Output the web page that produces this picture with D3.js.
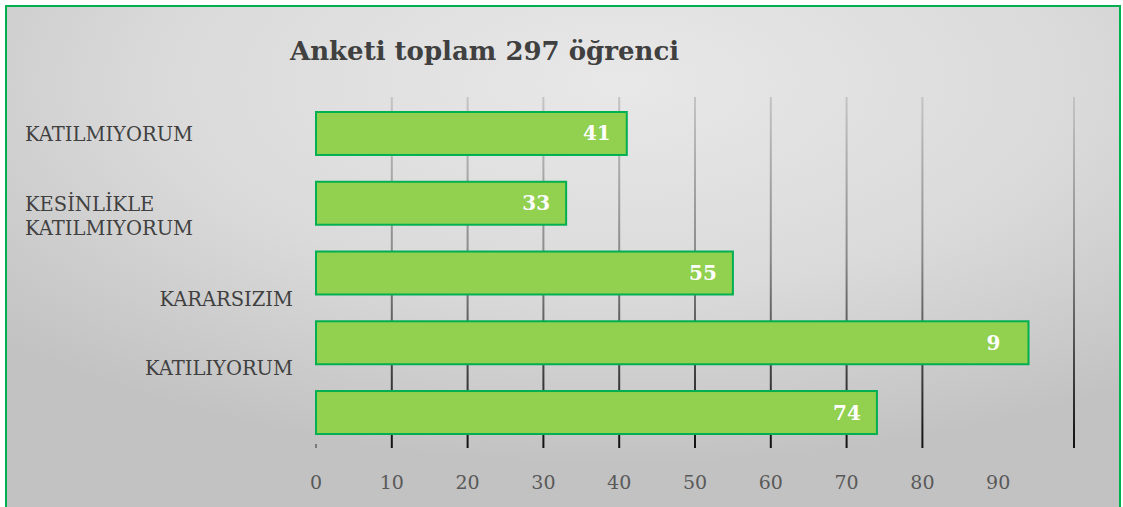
<!DOCTYPE html>
<html>
<head>
<meta charset="utf-8">
<script src="https://cdnjs.cloudflare.com/ajax/libs/d3/7.8.5/d3.min.js"></script>
<style>
  body { margin: 0; background: #fff; }
  text { font-family: "DejaVu Serif", "Liberation Serif", serif; }
</style>
</head>
<body>
<div id="chart"></div>
<script>
// chart data
var title = "Anketi toplam 297 öğrenci";
var categories = ["KATILMIYORUM", "KESİNLİKLE KATILMIYORUM", "KARARSIZIM", "KATILIYORUM", ""];
var values = [41, 33, 55, 94, 74];
var valueLabels = ["41", "33", "55", "9", "74"];
var tickValues = [0, 10, 20, 30, 40, 50, 60, 70, 80, 90];
var gridValues = [10, 20, 30, 40, 50, 60, 70, 80, 100];

var width = 1123, height = 507;

var svg = d3.select("#chart").append("svg")
  .attr("width", width)
  .attr("height", height);

var defs = svg.append("defs");

// background gradient
var bg = defs.append("radialGradient")
  .attr("id", "bg")
  .attr("cx", "0.55").attr("cy", "0.15").attr("r", "0.75");
bg.append("stop").attr("offset", "0%").attr("stop-color", "#e8e8e8");
bg.append("stop").attr("offset", "55%").attr("stop-color", "#dadada");
bg.append("stop").attr("offset", "100%").attr("stop-color", "#c2c2c2");

var gridTop = 97, gridBottom = 448;
var gg = defs.append("linearGradient")
  .attr("id", "grid")
  .attr("gradientUnits", "userSpaceOnUse")
  .attr("x1", 0).attr("y1", gridTop).attr("x2", 0).attr("y2", gridBottom);
gg.append("stop").attr("offset", "0%").attr("stop-color", "#c4c4c4");
gg.append("stop").attr("offset", "45%").attr("stop-color", "#8a8a8a");
gg.append("stop").attr("offset", "100%").attr("stop-color", "#111");

svg.append("rect")
  .attr("x", 6).attr("y", 6)
  .attr("width", 1114).attr("height", 510)
  .attr("fill", "url(#bg)")
  .attr("stroke", "#00b050")
  .attr("stroke-width", 2);

// scales
var x = d3.scaleLinear().domain([0, 100]).range([316, 1074]);
var y = d3.scaleBand()
  .domain(categories.map((c, i) => i))
  .range([112, 434])
  .paddingInner(0.384)
  .paddingOuter(0);

// gridlines
svg.selectAll(".grid")
  .data(gridValues)
  .enter().append("rect")
  .attr("class", "grid")
  .attr("x", d => x(d) - 1)
  .attr("y", gridTop)
  .attr("width", 2)
  .attr("height", gridBottom - gridTop)
  .attr("fill", "url(#grid)");

// small tick at zero
svg.append("line")
  .attr("x1", x(0)).attr("x2", x(0))
  .attr("y1", gridBottom - 4).attr("y2", gridBottom)
  .attr("stroke", "#333").attr("stroke-width", 1);

// x axis labels
svg.selectAll(".tick-label")
  .data(tickValues)
  .enter().append("text")
  .attr("class", "tick-label")
  .attr("x", d => x(d))
  .attr("y", 489)
  .attr("text-anchor", "middle")
  .attr("font-size", 19)
  .attr("fill", "#595959")
  .text(d => d);

// bars
svg.selectAll(".bar")
  .data(values)
  .enter().append("rect")
  .attr("class", "bar")
  .attr("x", x(0))
  .attr("y", (d, i) => y(i))
  .attr("width", d => x(d) - x(0))
  .attr("height", y.bandwidth())
  .attr("fill", "#92d050")
  .attr("stroke", "#00b050")
  .attr("stroke-width", 2);

// value labels
svg.selectAll(".val")
  .data(values)
  .enter().append("text")
  .attr("class", "val")
  .attr("x", (d, i) => x(d) - 16 - (valueLabels[i].length < 2 ? 12 : 0))
  .attr("y", (d, i) => y(i) + y.bandwidth() / 2 + 7)
  .attr("text-anchor", "end")
  .attr("font-size", 20)
  .attr("font-weight", "bold")
  .attr("fill", "#fff")
  .text((d, i) => valueLabels[i]);

// category labels (shifted like in the original picture)
var catLayout = [
  {anchor: "start", x: 25, dy: [8]},
  {anchor: "start", x: 25, dy: [8, 32]},
  {anchor: "end", x: 293, dy: [33]},
  {anchor: "end", x: 293, dy: [32]},
  {anchor: "end", x: 293, dy: [0]}
];
categories.forEach(function(c, i) {
  var lay = catLayout[i];
  var words = c === "KESİNLİKLE KATILMIYORUM" ? ["KESİNLİKLE", "KATILMIYORUM"] : [c];
  var t = svg.append("text")
    .attr("text-anchor", lay.anchor)
    .attr("font-size", 19.5)
    .attr("fill", "#404040");
  words.forEach(function(w, j) {
    t.append("tspan")
      .attr("x", lay.x)
      .attr("y", y(i) + y.bandwidth() / 2 + lay.dy[j])
      .text(w);
  });
});

// title
svg.append("text")
  .attr("x", 290)
  .attr("y", 60)
  .attr("font-size", 26)
  .attr("font-weight", "bold")
  .attr("fill", "#404040")
  .text(title);
</script>
</body>
</html>
